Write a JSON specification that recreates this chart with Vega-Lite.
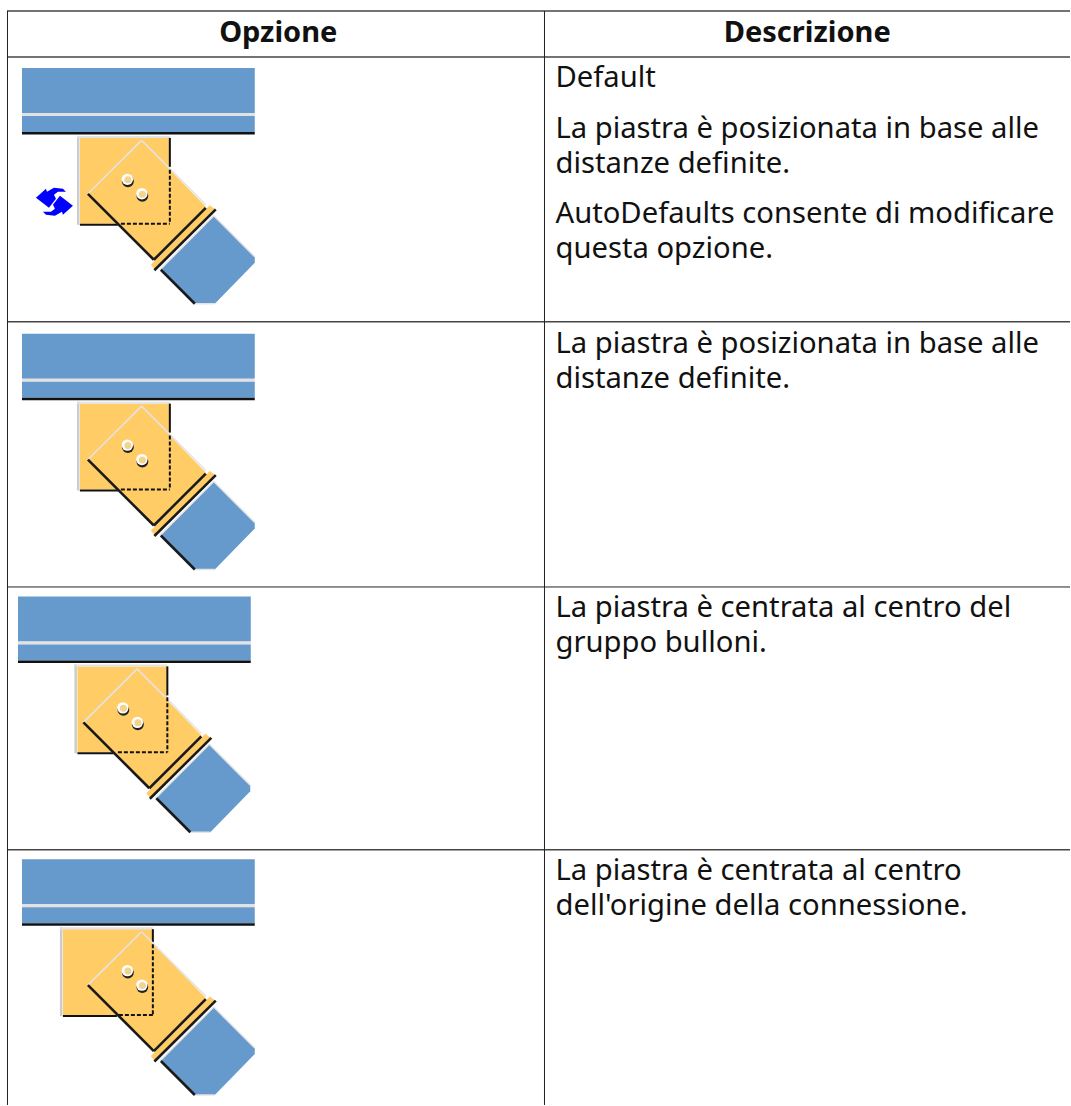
{"$schema":"https://vega.github.io/schema/vega-lite/v6.json","width":1071,"height":1106,"autosize":{"type":"fit","contains":"padding"},"padding":0,"background":"white","config":{"view":{"stroke":null}},
"datasets":{
"boxes":[
{"part":"beam","x":22,"x2":255,"y":68,"y2":113},{"part":"light","x":22,"x2":255,"y":113,"y2":116},{"part":"beam","x":22,"x2":255,"y":116,"y2":132},{"part":"dark","x":22,"x2":255,"y":132,"y2":134.5},
{"part":"beam","x":22,"x2":255,"y":334,"y2":379},{"part":"light","x":22,"x2":255,"y":379,"y2":382},{"part":"beam","x":22,"x2":255,"y":382,"y2":398},{"part":"dark","x":22,"x2":255,"y":398,"y2":400.5},
{"part":"beam","x":18,"x2":251,"y":597,"y2":642},{"part":"light","x":18,"x2":251,"y":642,"y2":645},{"part":"beam","x":18,"x2":251,"y":645,"y2":661},{"part":"dark","x":18,"x2":251,"y":661,"y2":663.5},
{"part":"beam","x":22,"x2":255,"y":860,"y2":905},{"part":"light","x":22,"x2":255,"y":905,"y2":908},{"part":"beam","x":22,"x2":255,"y":908,"y2":924},{"part":"dark","x":22,"x2":255,"y":924,"y2":926.5},
{"part":"plate","x":80,"x2":169.5,"y":138,"y2":224},{"part":"grey","x":77,"x2":79.5,"y":136,"y2":225},{"part":"light","x":77,"x2":170,"y":136,"y2":138},{"part":"dark","x":169,"x2":171,"y":138,"y2":167},{"part":"dark","x":80,"x2":118,"y":224,"y2":226},
{"part":"plate","x":80,"x2":169.5,"y":404,"y2":490},{"part":"grey","x":77,"x2":79.5,"y":402,"y2":491},{"part":"light","x":77,"x2":170,"y":402,"y2":404},{"part":"dark","x":169,"x2":171,"y":404,"y2":433},{"part":"dark","x":80,"x2":118,"y":490,"y2":492},
{"part":"plate","x":77.5,"x2":167,"y":667,"y2":753},{"part":"grey","x":74.5,"x2":77,"y":665,"y2":754},{"part":"light","x":74.5,"x2":167.5,"y":665,"y2":667},{"part":"dark","x":166.5,"x2":168.5,"y":667,"y2":696},{"part":"dark","x":77.5,"x2":113.5,"y":753,"y2":755},
{"part":"plate","x":63,"x2":152.5,"y":930,"y2":1016},{"part":"grey","x":60,"x2":62.5,"y":928,"y2":1017},{"part":"light","x":60,"x2":153,"y":928,"y2":930},{"part":"dark","x":152,"x2":154,"y":930,"y2":943},{"part":"dark","x":63,"x2":117,"y":1016,"y2":1018}
],
"polys":[
{"s":"d1","part":"plate","x":141.7,"y":140.5,"o":1},{"s":"d1","part":"plate","x":88,"y":194,"o":2},{"s":"d1","part":"plate","x":154,"y":260,"o":3},{"s":"d1","part":"plate","x":206,"y":207,"o":4},
{"s":"t1","part":"plate","x":210,"y":205.5,"o":1},{"s":"t1","part":"plate","x":216,"y":210,"o":2},{"s":"t1","part":"plate","x":155,"y":270,"o":3},{"s":"t1","part":"plate","x":151,"y":265,"o":4},
{"s":"b1","part":"beam","x":214,"y":216,"o":1},{"s":"b1","part":"beam","x":255,"y":257,"o":2},{"s":"b1","part":"beam","x":255,"y":263,"o":3},{"s":"b1","part":"beam","x":215,"y":304,"o":4},{"s":"b1","part":"beam","x":195,"y":304,"o":5},{"s":"b1","part":"beam","x":161,"y":270,"o":6},
{"s":"d2","part":"plate","x":141.7,"y":406.5,"o":1},{"s":"d2","part":"plate","x":88,"y":460,"o":2},{"s":"d2","part":"plate","x":154,"y":526,"o":3},{"s":"d2","part":"plate","x":206,"y":473,"o":4},
{"s":"t2","part":"plate","x":210,"y":471.5,"o":1},{"s":"t2","part":"plate","x":216,"y":476,"o":2},{"s":"t2","part":"plate","x":155,"y":536,"o":3},{"s":"t2","part":"plate","x":151,"y":531,"o":4},
{"s":"b2","part":"beam","x":214,"y":482,"o":1},{"s":"b2","part":"beam","x":255,"y":523,"o":2},{"s":"b2","part":"beam","x":255,"y":529,"o":3},{"s":"b2","part":"beam","x":215,"y":570,"o":4},{"s":"b2","part":"beam","x":195,"y":570,"o":5},{"s":"b2","part":"beam","x":161,"y":536,"o":6},
{"s":"d3","part":"plate","x":137.2,"y":669.5,"o":1},{"s":"d3","part":"plate","x":83.5,"y":723,"o":2},{"s":"d3","part":"plate","x":149.5,"y":789,"o":3},{"s":"d3","part":"plate","x":201.5,"y":736,"o":4},
{"s":"t3","part":"plate","x":205.5,"y":734.5,"o":1},{"s":"t3","part":"plate","x":211.5,"y":739,"o":2},{"s":"t3","part":"plate","x":150.5,"y":799,"o":3},{"s":"t3","part":"plate","x":146.5,"y":794,"o":4},
{"s":"b3","part":"beam","x":209.5,"y":745,"o":1},{"s":"b3","part":"beam","x":250.5,"y":786,"o":2},{"s":"b3","part":"beam","x":250.5,"y":792,"o":3},{"s":"b3","part":"beam","x":210.5,"y":833,"o":4},{"s":"b3","part":"beam","x":190.5,"y":833,"o":5},{"s":"b3","part":"beam","x":156.5,"y":799,"o":6},
{"s":"d4","part":"plate","x":141.7,"y":932.5,"o":1},{"s":"d4","part":"plate","x":88,"y":986,"o":2},{"s":"d4","part":"plate","x":154,"y":1052,"o":3},{"s":"d4","part":"plate","x":206,"y":999,"o":4},
{"s":"t4","part":"plate","x":210,"y":997.5,"o":1},{"s":"t4","part":"plate","x":216,"y":1002,"o":2},{"s":"t4","part":"plate","x":155,"y":1062,"o":3},{"s":"t4","part":"plate","x":151,"y":1057,"o":4},
{"s":"b4","part":"beam","x":214,"y":1008,"o":1},{"s":"b4","part":"beam","x":255,"y":1049,"o":2},{"s":"b4","part":"beam","x":255,"y":1055,"o":3},{"s":"b4","part":"beam","x":215,"y":1096,"o":4},{"s":"b4","part":"beam","x":195,"y":1096,"o":5},{"s":"b4","part":"beam","x":161,"y":1062,"o":6},
{"s":"i1","part":"icon","x":36,"y":198,"o":1},{"s":"i1","part":"icon","x":46,"y":189,"o":2},{"s":"i1","part":"icon","x":47,"y":192,"o":3},{"s":"i1","part":"icon","x":54,"y":188,"o":4},{"s":"i1","part":"icon","x":63,"y":189,"o":5},{"s":"i1","part":"icon","x":66,"y":192,"o":6},{"s":"i1","part":"icon","x":58,"y":192,"o":7},{"s":"i1","part":"icon","x":54,"y":195,"o":8},{"s":"i1","part":"icon","x":56,"y":199,"o":9},{"s":"i1","part":"icon","x":49,"y":208,"o":10},
{"s":"i2","part":"icon","x":73,"y":206,"o":1},{"s":"i2","part":"icon","x":63,"y":215,"o":2},{"s":"i2","part":"icon","x":62,"y":212,"o":3},{"s":"i2","part":"icon","x":55,"y":216,"o":4},{"s":"i2","part":"icon","x":46,"y":215,"o":5},{"s":"i2","part":"icon","x":43,"y":212,"o":6},{"s":"i2","part":"icon","x":51,"y":212,"o":7},{"s":"i2","part":"icon","x":55,"y":209,"o":8},{"s":"i2","part":"icon","x":53,"y":205,"o":9},{"s":"i2","part":"icon","x":60,"y":196,"o":10}
],
"darkEdges":[
{"x":88,"y":194,"x2":154,"y2":260},{"x":154,"y":260,"x2":206,"y2":208},{"x":154.5,"y":270.5,"x2":216,"y2":209.5},{"x":161,"y":270,"x2":195,"y2":304},
{"x":88,"y":460,"x2":154,"y2":526},{"x":154,"y":526,"x2":206,"y2":474},{"x":154.5,"y":536.5,"x2":216,"y2":475.5},{"x":161,"y":536,"x2":195,"y2":570},
{"x":83.5,"y":723,"x2":149.5,"y2":789},{"x":149.5,"y":789,"x2":201.5,"y2":737},{"x":150,"y":799.5,"x2":211.5,"y2":738.5},{"x":156.5,"y":799,"x2":190.5,"y2":833},
{"x":88,"y":986,"x2":154,"y2":1052},{"x":154,"y":1052,"x2":206,"y2":1000},{"x":154.5,"y":1062.5,"x2":216,"y2":1001.5},{"x":161,"y":1062,"x2":195,"y2":1096}
],
"lightEdges":[
{"x":88,"y":194,"x2":141.7,"y2":140.5},{"x":141.7,"y":140.5,"x2":206,"y2":205},{"x":160,"y":270,"x2":214,"y2":216},{"x":214,"y":216,"x2":255,"y2":257},{"x":195,"y":304,"x2":215,"y2":304},
{"x":88,"y":460,"x2":141.7,"y2":406.5},{"x":141.7,"y":406.5,"x2":206,"y2":471},{"x":160,"y":536,"x2":214,"y2":482},{"x":214,"y":482,"x2":255,"y2":523},{"x":195,"y":570,"x2":215,"y2":570},
{"x":83.5,"y":723,"x2":137.2,"y2":669.5},{"x":137.2,"y":669.5,"x2":201.5,"y2":734},{"x":155.5,"y":799,"x2":209.5,"y2":745},{"x":209.5,"y":745,"x2":250.5,"y2":786},{"x":190.5,"y":833,"x2":210.5,"y2":833},
{"x":88,"y":986,"x2":141.7,"y2":932.5},{"x":141.7,"y":932.5,"x2":206,"y2":997},{"x":160,"y":1062,"x2":214,"y2":1008},{"x":214,"y":1008,"x2":255,"y2":1049},{"x":195,"y":1096,"x2":215,"y2":1096}
],
"dashes":[
{"x":170,"y":170,"x2":170,"y2":224},{"x":121,"y":224,"x2":170,"y2":224},
{"x":170,"y":436,"x2":170,"y2":490},{"x":121,"y":490,"x2":170,"y2":490},
{"x":167.5,"y":698,"x2":167.5,"y2":753},{"x":118,"y":753,"x2":167.5,"y2":753},
{"x":153,"y":945,"x2":153,"y2":1016},{"x":119,"y":1016,"x2":153,"y2":1016}
],
"bolts":[
{"x":127.5,"y":179.5},{"x":142,"y":194},{"x":127.5,"y":445.5},{"x":142,"y":460},{"x":123,"y":708.5},{"x":137.5,"y":723},{"x":127.5,"y":971.5},{"x":142,"y":986}
],
"gridWide":[
{"x":7,"x2":1071,"y":11,"y2":11},{"x":7,"x2":1071,"y":57,"y2":57},{"x":7,"x2":1071,"y":322,"y2":322},{"x":7,"x2":1071,"y":850.5,"y2":850.5}
],
"grid":[
{"x":7,"x2":1071,"y":587.5,"y2":587.5},
{"x":7.5,"x2":7.5,"y":11,"y2":1106},{"x":545,"x2":545,"y":11,"y2":1106}
],
"heads":[{"x":278.5,"y":42,"t":"Opzione"},{"x":808,"y":42,"t":"Descrizione"}],
"cells":[
{"x":556,"y":87,"t":"Default"},{"x":556,"y":138,"t":"La piastra è posizionata in base alle"},{"x":556,"y":173,"t":"distanze definite."},{"x":556,"y":223,"t":"AutoDefaults consente di modificare"},{"x":556,"y":258,"t":"questa opzione."},
{"x":556,"y":353,"t":"La piastra è posizionata in base alle"},{"x":556,"y":388,"t":"distanze definite."},
{"x":556,"y":618,"t":"La piastra è centrata al centro del"},{"x":556,"y":653,"t":"gruppo bulloni."},
{"x":556,"y":881,"t":"La piastra è centrata al centro"},{"x":556,"y":916,"t":"dell'origine della connessione."}
]},
"encoding":{"x":{"field":"x","type":"quantitative","scale":{"domain":[0,1071],"nice":false,"zero":false},"axis":null},"y":{"field":"y","type":"quantitative","scale":{"domain":[0,1106],"reverse":true,"nice":false,"zero":false},"axis":null}},
"layer":[
{"data":{"name":"boxes"},"mark":{"type":"rect"},"encoding":{"x2":{"field":"x2"},"y2":{"field":"y2"},"fill":{"field":"part","type":"nominal","legend":null,"scale":{"domain":["beam","plate","light","grey","dark","icon"],"range":["#6699CC","#FFCC66","#E2E2E2","#CCCCCC","#111111","#0000FF"]}}}},
{"data":{"name":"polys"},"mark":{"type":"line","strokeWidth":0,"opacity":1},"encoding":{"detail":{"field":"s"},"order":{"field":"o","type":"quantitative"},"fill":{"field":"part","type":"nominal","legend":null,"scale":{"domain":["beam","plate","light","grey","dark","icon"],"range":["#6699CC","#FFCC66","#E2E2E2","#CCCCCC","#111111","#0000FF"]}}}},
{"data":{"name":"lightEdges"},"mark":{"type":"rule","stroke":"#E4E4E4","strokeWidth":1.5},"encoding":{"x2":{"field":"x2"},"y2":{"field":"y2"}}},
{"data":{"name":"darkEdges"},"mark":{"type":"rule","stroke":"#1A1A1A","strokeWidth":2.6},"encoding":{"x2":{"field":"x2"},"y2":{"field":"y2"}}},
{"data":{"name":"dashes"},"mark":{"type":"rule","stroke":"#111111","strokeWidth":2,"strokeDash":[4,2]},"encoding":{"x2":{"field":"x2"},"y2":{"field":"y2"}}},
{"data":{"name":"bolts"},"mark":{"type":"point","filled":true,"fill":"#222222","stroke":null,"size":140,"opacity":1,"xOffset":0.5,"yOffset":2}},
{"data":{"name":"bolts"},"mark":{"type":"point","filled":true,"fill":"#FFFFFF","stroke":null,"size":130,"opacity":1}},
{"data":{"name":"bolts"},"mark":{"type":"point","filled":true,"fill":"#F2D48F","stroke":null,"size":50,"opacity":1,"xOffset":0.5,"yOffset":0.5}},
{"data":{"name":"gridWide"},"mark":{"type":"rule","stroke":"#444444","strokeWidth":1.6},"encoding":{"x2":{"field":"x2"},"y2":{"field":"y2"}}},
{"data":{"name":"grid"},"mark":{"type":"rule","stroke":"#222222","strokeWidth":1},"encoding":{"x2":{"field":"x2"},"y2":{"field":"y2"}}},
{"data":{"name":"heads"},"mark":{"type":"text","font":"Noto Sans","fontSize":29,"fontWeight":"bold","align":"center","baseline":"alphabetic","fill":"#111111"},"encoding":{"text":{"field":"t"}}},
{"data":{"name":"cells"},"mark":{"type":"text","font":"Noto Sans","fontSize":29.2,"align":"left","baseline":"alphabetic","fill":"#111111"},"encoding":{"text":{"field":"t"}}}
]}
